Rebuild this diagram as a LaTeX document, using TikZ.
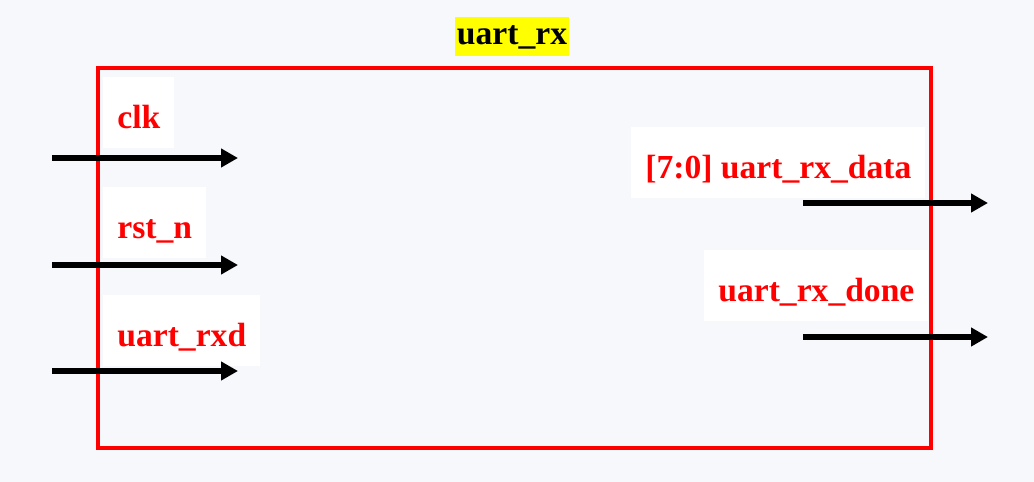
\documentclass[tikz,border=0pt]{standalone}
\usepackage{fontspec}
\setmainfont{Liberation Serif}
\usetikzlibrary{arrows.meta}
\usetikzlibrary{positioning}
\definecolor{bgcol}{HTML}{F7F8FB}
\definecolor{portred}{HTML}{FF0000}
\definecolor{titleyellow}{HTML}{FFFF00}
\tikzset{
	port/.style={fill=white, text=portred, font=\fontsize{16.8}{20}\selectfont\bfseries, inner xsep=7pt, inner ysep=8pt, text height=17.5pt, text depth=2pt, anchor=base west},
	signal/.style={line width=3pt, -{Triangle[length=8.5pt,width=9pt]}}
}
\begin{document}
\begin{tikzpicture}[x=0.5pt,y=-0.5pt]
		\fill[bgcol] (0,0) rectangle (1034,482);
		\useasboundingbox (0,0) rectangle (1034,482);
		\draw[portred, line width=2.3pt] (98,68) rectangle (931,448);
		\path 	(512,45)	node[fill=titleyellow, font=\fontsize{16.8}{20}\selectfont\bfseries, inner xsep=1pt, inner ysep=2.5pt, text height=11.5pt, text depth=3pt, anchor=base] (title) 	{uart\_rx}
			(103,128)	node[port] (clk) 	{clk}
			(103,238)	node[port] (rst) 	{rst\_n}
			(103,346)	node[port] (rxd) 	{uart\_rxd}
			(631,178)	node[port] (data) 	{[7:0] uart\_rx\_data}
			(704,301)	node[port] (done) 	{uart\_rx\_done};
		\coordinate (clk in) at (52,158);	\coordinate (clk end) at (238,158);
		\coordinate (rst in) at (52,265);	\coordinate (rst end) at (238,265);
		\coordinate (rxd in) at (52,371);	\coordinate (rxd end) at (238,371);
		\coordinate (data out) at (803,203);	\coordinate (data end) at (988,203);
		\coordinate (done out) at (803,337);	\coordinate (done end) at (988,337);
		\draw[signal] (clk in) -- (clk end);
		\draw[signal] (rst in) -- (rst end);
		\draw[signal] (rxd in) -- (rxd end);
		\draw[signal] (data out) -- (data end);
		\draw[signal] (done out) -- (done end);
	\end{tikzpicture}
\end{document}
